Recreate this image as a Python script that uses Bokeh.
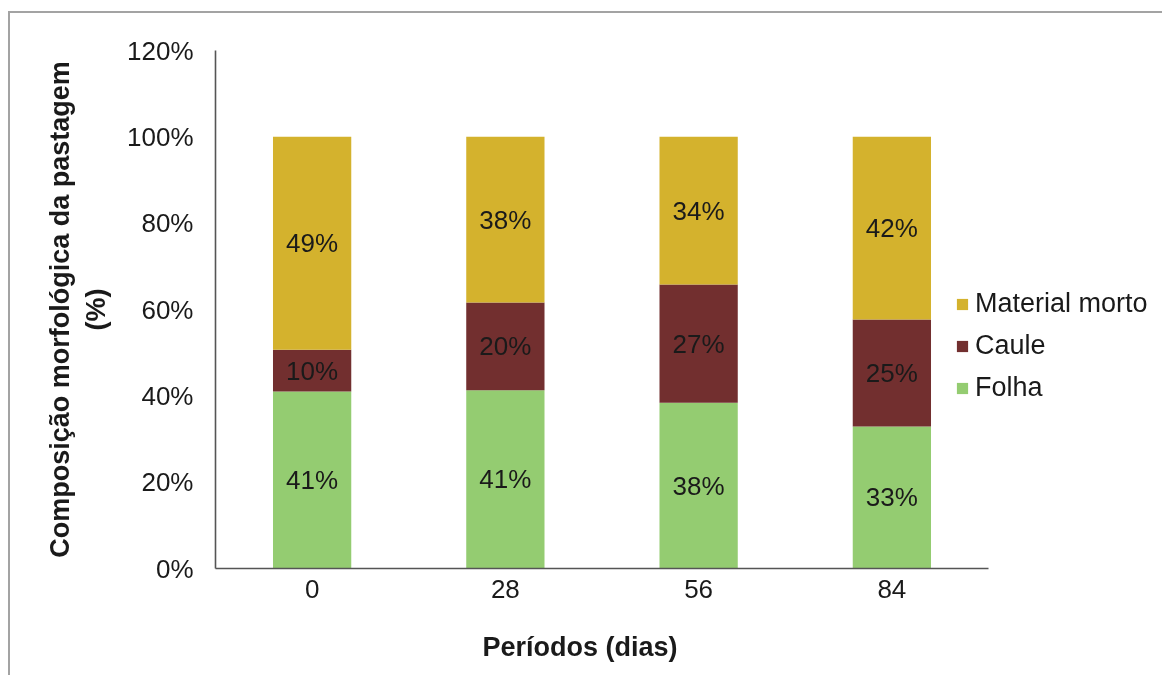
from bokeh.plotting import figure
from bokeh.models import (Range1d, FixedTicker, NumeralTickFormatter,
                          ColumnDataSource, Legend, LegendItem, Title)
from bokeh.core.properties import value
from bokeh.embed import file_html
from bokeh.resources import INLINE

# Grazing periods (days) and morphological composition shares (fractions)
periods = [0, 28, 56, 84]
folha = [0.410, 0.413, 0.384, 0.329]
caule = [0.097, 0.203, 0.274, 0.248]
material_morto = [0.493, 0.384, 0.342, 0.423]

series = ["folha", "caule", "material_morto"]
series_names = ["Folha", "Caule", "Material morto"]
colors = ["#94CC71", "#722F2F", "#D4B22D"]
y_ticks = [0.0, 0.2, 0.4, 0.6, 0.8, 1.0, 1.2]

FONT = "Liberation Sans"
FS = "26px"
FS_TITLE = "27px"
TEXT_COLOR = "#1a1a1a"

# Each period occupies a 28-day slot; the axis line covers the four slots only,
# the frame continues to the right to hold the legend.
slot = 28
px_per_day = 773 / (len(periods) * slot)
frame_w = 947
x_start = periods[0] - slot / 2
x_end = x_start + frame_w / px_per_day

source = ColumnDataSource(data=dict(
    periods=periods, folha=folha, caule=caule, material_morto=material_morto))

p = figure(
    x_range=Range1d(x_start, x_end),
    y_range=Range1d(0, 1.2),
    frame_width=frame_w, frame_height=518,
    min_border_left=205, min_border_right=0,
    min_border_top=37, min_border_bottom=107,
    output_backend="svg", toolbar_location=None,
)
# Page frame: grey rule along the left and top edges; the plot is pinned to the
# viewport so that the lower margin can run past the bottom without scrolling.
p.styles = {"position": "fixed", "left": "8px", "top": "11px",
            "border-left": "2px solid #a3a3a3", "border-top": "2px solid #a3a3a3"}
p.outline_line_color = None
p.background_fill_color = "white"
p.border_fill_color = "white"
p.xgrid.grid_line_color = None
p.ygrid.grid_line_color = None

renderers = p.vbar_stack(series, x="periods", width=slot * 0.405, color=colors,
                         line_color=None, source=source)

# Percentage labels centred in each stacked segment
base = [0.0] * len(periods)
for key in series:
    vals = source.data[key]
    mids = [b + v / 2 for b, v in zip(base, vals)]
    texts = [f"{round(v * 100):.0f}%" for v in vals]
    p.text(x=periods, y=mids, text=texts, text_align="center",
           text_baseline="middle", text_font=value(FONT),
           text_font_size=FS, text_color=TEXT_COLOR)
    base = [b + v for b, v in zip(base, vals)]

# Axes
p.xaxis.ticker = FixedTicker(ticks=periods)
p.xaxis.bounds = (x_start, periods[-1] + slot / 2)
p.yaxis.ticker = FixedTicker(ticks=y_ticks)
p.yaxis.formatter = NumeralTickFormatter(format="0%")
for ax in (p.xaxis[0], p.yaxis[0]):
    ax.major_tick_line_color = None
    ax.minor_tick_line_color = None
    ax.major_tick_out = 0
    ax.major_tick_in = 0
    ax.axis_line_color = "#555555"
    ax.axis_line_width = 1.6
    ax.major_label_text_font = FONT
    ax.major_label_text_font_size = FS
    ax.major_label_text_color = TEXT_COLOR
    ax.axis_label_text_font = FONT
    ax.axis_label_text_font_style = "bold"
    ax.axis_label_text_font_size = FS_TITLE
    ax.axis_label_text_color = TEXT_COLOR

p.yaxis.major_label_standoff = 22
p.yaxis.axis_label = "Composição morfológica da pastagem\n(%)"
p.yaxis.axis_label_standoff = 13
p.xaxis.major_label_standoff = 11

# x-axis title, centred under the axis line rather than the whole frame
x_title = Title(text="Períodos (dias)", align="left", offset=267, standoff=59,
                text_font=FONT, text_font_size=FS_TITLE,
                text_font_style="bold", text_color=TEXT_COLOR)
p.add_layout(x_title, "below")

legend = Legend(
    items=[LegendItem(label=n, renderers=[r])
           for n, r in reversed(list(zip(series_names, renderers)))],
    location=(740, 165),
    glyph_width=14, glyph_height=14,
    label_text_font=FONT, label_text_font_size=FS_TITLE,
    label_text_color=TEXT_COLOR, label_standoff=6,
    spacing=11, padding=0, margin=0,
    border_line_color=None, background_fill_alpha=0,
)
p.add_layout(legend)

open("out.html", "w").write(file_html(p, INLINE))
